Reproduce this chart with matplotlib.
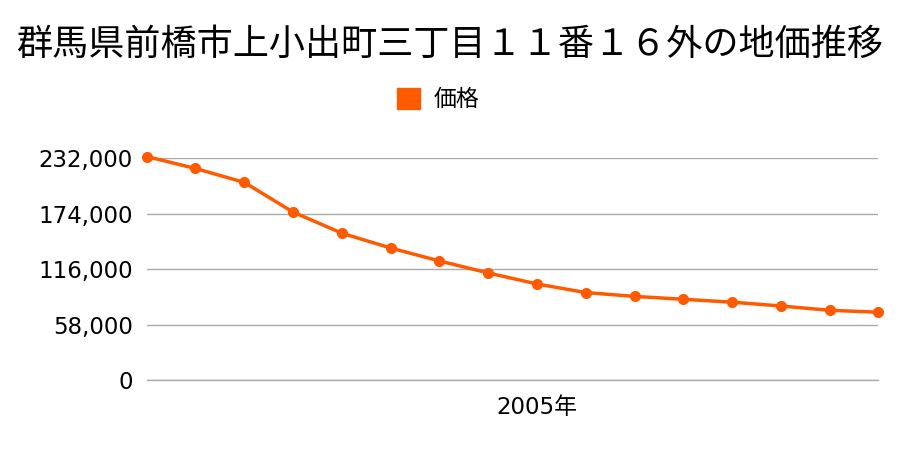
import matplotlib
matplotlib.use("Agg")
import matplotlib.pyplot as plt
from matplotlib.patches import Patch

plt.rcParams['font.family'] = ['DejaVu Sans', 'Noto Sans CJK JP']

# --- data ---
years = list(range(1997, 2013))
prices = [233500, 221000, 206500, 175500, 153500, 138000, 124500, 112000,
          100500, 91500, 87500, 84500, 81500, 77500, 73000, 71000]
yticks = [0, 58000, 116000, 174000, 232000]
title = "群馬県前橋市上小出町三丁目１１番１６外の地価推移"
series_name = "価格"
line_color = "#FF5A00"

fig = plt.figure(figsize=(9, 4.5), dpi=100)
ax = fig.add_axes([0.163, 0.155, 0.813, 0.494])

ax.plot(years, prices, color=line_color, linewidth=2.5, marker='o',
        markersize=7, label=series_name, zorder=3, clip_on=False)

ax.set_xlim(years[0], years[-1])
ax.set_ylim(0, 232000)
ax.set_yticks(yticks)
ax.set_yticklabels([f"{v:,}" for v in yticks], fontsize=16.5)
ax.set_xticks([2005])
ax.set_xticklabels(["2005年"], fontsize=16.5)
ax.tick_params(length=0)
ax.tick_params(axis='y', pad=10)
ax.tick_params(axis='x', pad=11)
ax.grid(axis='y', color='#aaaaaa', linewidth=1)
ax.axhline(0, color='#aaaaaa', linewidth=1, clip_on=False, zorder=1)
for s in ax.spines.values():
    s.set_visible(False)
ax.set_axisbelow(True)

fig.text(0.5, 0.9, title, ha='center', va='center', fontsize=26,
         family=['Noto Sans CJK JP', 'DejaVu Sans'])

# legend
fig.legend(handles=[Patch(color=line_color, label=series_name)],
           loc='center', bbox_to_anchor=(0.487, 0.778), frameon=False,
           prop={'size': 16.5, 'family': ['Noto Sans CJK JP']},
           handlelength=1.0, handleheight=1.0, handletextpad=0.6)

fig.savefig("out.png", dpi=100)
